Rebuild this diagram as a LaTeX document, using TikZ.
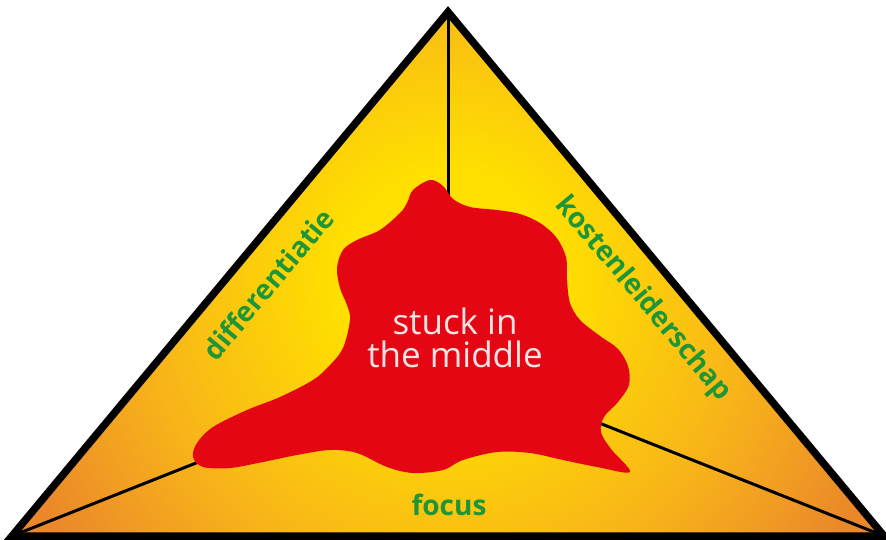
\documentclass[tikz,border=0pt]{standalone}
\usepackage{fontspec}
\setmainfont{Open Sans}
\definecolor{triyel}{RGB}{255,224,0}
\definecolor{trimid}{RGB}{248,180,25}
\definecolor{triorg}{RGB}{234,135,42}
\definecolor{blobred}{RGB}{228,6,19}
\definecolor{labgreen}{RGB}{30,150,55}
\definecolor{blobtext}{RGB}{252,228,228}
\pgfdeclareradialshading{trishade}{\pgfpoint{0bp}{0bp}}{color(0bp)=(triyel); color(3bp)=(triyel); color(8.5bp)=(trimid); color(13bp)=(triorg); color(50bp)=(triorg)}
\tikzset{
  edgelab/.style={font=\fontsize{28}{30}\selectfont\bfseries, text=labgreen, inner sep=0pt},
  spoke/.style={line width=3pt, black},
  outline/.style={line width=7.5pt, black, line join=miter}
}
\begin{document}
\begin{tikzpicture}[x=1pt,y=-1pt]
\useasboundingbox (0,0) rectangle (886,540);
\coordinate (A) at (448,12);
\coordinate (L) at (12,536);
\coordinate (R) at (884,536);
\coordinate (M) at (448,363);
\begin{scope}
  \clip (A) -- (L) -- (R) -- cycle;
  \shade[shading=trishade] (448,280) circle (900);
\end{scope}
\draw[spoke] (A) -- (M);
\draw[spoke] (L) -- (M);
\draw[spoke] (R) -- (M);
\fill[blobred] plot[smooth cycle, tension=0.55] coordinates {
 (430,180) (443,186) (453,199) (470,207) (497,210) (520,214) (540,223) (556,237)
 (566,257) (567,280) (570,303) (580,320) (600,336) (618,349) (628,366) (629,385)
 (618,402) (604,417) (601,432) (611,449) (630,472) (597,467) (563,460) (530,453)
 (497,452) (463,460) (443,470) (413,473) (387,467) (357,453) (330,450) (297,455)
 (263,462) (230,468) (203,467) (193,457) (197,443) (213,427) (247,410) (280,397)
 (313,380) (330,365) (343,348) (350,320) (347,305) (340,288) (337,268) (343,250)
 (357,240) (380,230) (400,213) (407,203) (413,190)};
\node[font=\fontsize{35}{33}\selectfont, text=blobtext, align=center, inner sep=0pt] (stuck) at (455,338) {stuck in\\the middle};
\node[edgelab, rotate=50] (diff) at (268,284) {differentiatie};
\node[edgelab, rotate=-50] (kost) at (643,299) {kostenleiderschap};
\node[edgelab] (focus) at (449,505) {focus};
\draw[outline] (A) -- (L) -- (R) -- cycle;
\end{tikzpicture}
\end{document}
